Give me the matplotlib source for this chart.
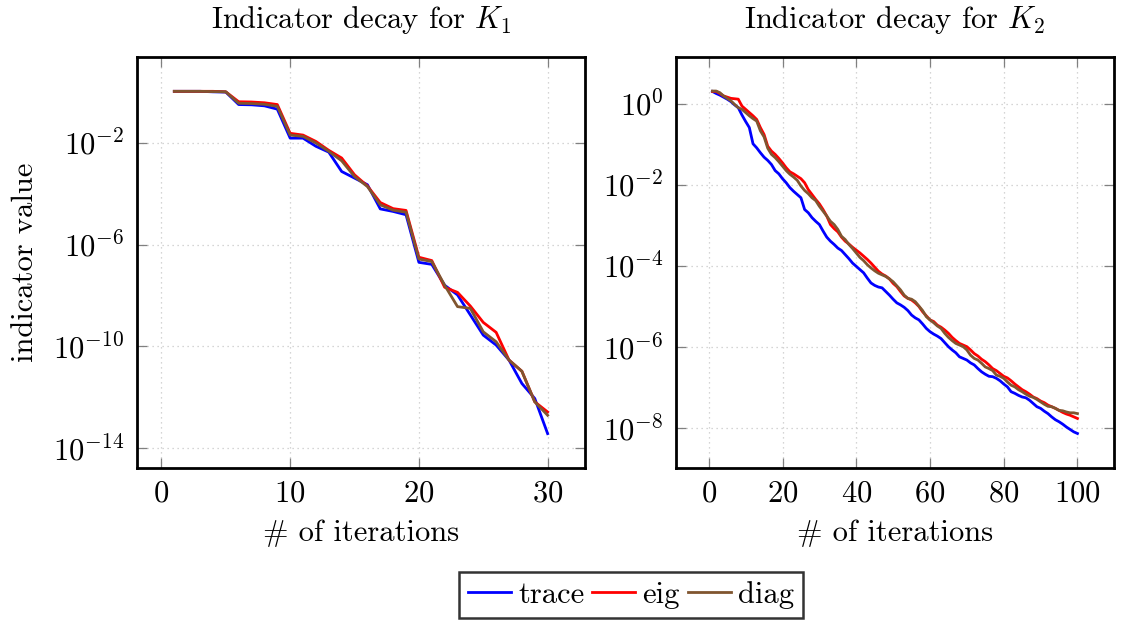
import numpy as np
import matplotlib
matplotlib.use('Agg')
import matplotlib.pyplot as plt

plt.rcParams['font.family'] = 'cmr10'
plt.rcParams['mathtext.fontset'] = 'cm'
plt.rcParams['axes.formatter.use_mathtext'] = True
plt.rcParams['font.size'] = 22

# K1: exponents (log10), iterations 1..30
k1_iter = np.arange(1, 31)
k1_trace = [0.02, 0.02, 0.02, 0.0, -0.01, -0.50, -0.51, -0.55, -0.68, -1.82,
            -1.82, -2.14, -2.37, -3.13, -3.39, -3.65, -4.60, -4.70, -4.83, -6.70,
            -6.78, -7.60, -7.98, -8.77, -9.56, -9.95, -10.54, -11.46, -12.05, -13.43]
k1_eig = [0.02, 0.02, 0.02, 0.02, 0.0, -0.39, -0.40, -0.43, -0.50, -1.63,
          -1.70, -1.95, -2.30, -2.60, -3.26, -3.70, -4.35, -4.59, -4.66, -6.50,
          -6.63, -7.68, -7.88, -8.42, -9.06, -9.45, -10.54, -10.98, -12.18, -12.58]
k1_diag = [0.02, 0.02, 0.02, 0.01, 0.0, -0.45, -0.46, -0.49, -0.57, -1.70,
           -1.75, -2.01, -2.34, -2.71, -3.33, -3.72, -4.44, -4.65, -4.73, -6.57,
           -6.67, -7.60, -8.44, -8.51, -9.43, -9.82, -10.54, -10.98, -12.18, -12.71]

# K2: exponents (log10), iterations 1..100
k2_iter = np.arange(1, 101)
k2_trace = [0.30, 0.25, 0.21, 0.16, 0.11, 0.05, -0.03, -0.10, -0.28, -0.44,
            -0.59, -0.99, -1.09, -1.21, -1.32, -1.40, -1.50, -1.65, -1.73, -1.85,
            -1.95, -2.07, -2.16, -2.24, -2.32, -2.61, -2.69, -2.81, -2.90, -2.98,
            -3.14, -3.29, -3.39, -3.47, -3.56, -3.62, -3.72, -3.82, -3.93, -4.01,
            -4.09, -4.17, -4.30, -4.42, -4.48, -4.52, -4.54, -4.63, -4.72, -4.82,
            -4.91, -4.96, -5.02, -5.10, -5.21, -5.28, -5.33, -5.43, -5.54, -5.62,
            -5.68, -5.73, -5.79, -5.89, -5.99, -6.07, -6.14, -6.24, -6.28, -6.32,
            -6.39, -6.44, -6.53, -6.61, -6.67, -6.72, -6.73, -6.77, -6.83, -6.91,
            -6.98, -7.10, -7.14, -7.19, -7.23, -7.25, -7.31, -7.39, -7.47, -7.51,
            -7.58, -7.64, -7.72, -7.79, -7.84, -7.90, -7.97, -8.03, -8.09, -8.13]
k2_eig = [0.30, 0.30, 0.25, 0.19, 0.16, 0.13, 0.12, 0.11, -0.06, -0.14,
          -0.22, -0.30, -0.39, -0.59, -0.76, -1.05, -1.17, -1.25, -1.35, -1.46,
          -1.58, -1.68, -1.73, -1.79, -1.85, -1.95, -2.12, -2.24, -2.36, -2.47,
          -2.61, -2.77, -2.98, -3.08, -3.16, -3.29, -3.39, -3.46, -3.54, -3.61,
          -3.68, -3.76, -3.84, -3.93, -4.03, -4.13, -4.20, -4.25, -4.32, -4.43,
          -4.51, -4.63, -4.74, -4.80, -4.84, -4.91, -5.00, -5.13, -5.23, -5.33,
          -5.37, -5.46, -5.51, -5.58, -5.66, -5.76, -5.84, -5.91, -5.95, -5.99,
          -6.07, -6.16, -6.22, -6.30, -6.36, -6.44, -6.53, -6.58, -6.65, -6.72,
          -6.76, -6.83, -6.91, -6.98, -7.05, -7.10, -7.16, -7.23, -7.27, -7.33,
          -7.37, -7.43, -7.47, -7.51, -7.56, -7.61, -7.65, -7.68, -7.72, -7.76]
k2_diag = [0.31, 0.31, 0.27, 0.19, 0.13, 0.07, -0.02, -0.10, -0.14, -0.22,
           -0.30, -0.37, -0.43, -0.67, -0.82, -1.10, -1.25, -1.33, -1.43, -1.54,
           -1.65, -1.74, -1.81, -1.89, -2.03, -2.14, -2.22, -2.32, -2.39, -2.53,
           -2.65, -2.77, -2.90, -2.98, -3.10, -3.27, -3.35, -3.47, -3.57, -3.68,
           -3.79, -3.87, -3.97, -4.05, -4.12, -4.18, -4.22, -4.26, -4.32, -4.39,
           -4.49, -4.59, -4.72, -4.80, -4.82, -4.88, -4.99, -5.10, -5.25, -5.33,
           -5.40, -5.48, -5.54, -5.66, -5.76, -5.84, -5.91, -5.95, -5.99, -6.07,
           -6.20, -6.28, -6.32, -6.40, -6.49, -6.53, -6.58, -6.69, -6.72, -6.77,
           -6.86, -6.94, -6.98, -7.05, -7.10, -7.16, -7.21, -7.24, -7.29, -7.35,
           -7.41, -7.46, -7.47, -7.51, -7.56, -7.57, -7.60, -7.62, -7.62, -7.64]

labels = ['trace', 'eig', 'diag']
colors = ['#0000ff', '#ff0000', '#80552f']

fig = plt.figure(figsize=(11.33, 6.28), dpi=100)
ax1 = fig.add_axes([0.1209, 0.2548, 0.3954, 0.6545])
ax2 = fig.add_axes([0.5966, 0.2548, 0.3866, 0.6545])


def draw(ax, x, series, title, xlim, ylim, xticks, yticks):
    for s, c, lab in zip(series, colors, labels):
        ax.plot(x, 10.0 ** np.array(s), color=c, lw=2, label=lab)
    ax.set_yscale('log')
    ax.set_xlim(*xlim)
    ax.set_ylim(10.0 ** ylim[0], 10.0 ** ylim[1])
    ax.set_xticks(xticks)
    ax.set_yticks([10.0 ** e for e in yticks])
    ax.yaxis.set_minor_locator(matplotlib.ticker.NullLocator())
    ax.grid(True, which='major', color='#c8c8c8', linestyle=(0, (1, 3)), lw=0.9)
    ax.tick_params(direction='in', length=7, width=0.9, color='#808080',
                   top=True, right=True, labelsize=22, pad=9)
    for sp in ax.spines.values():
        sp.set_linewidth(2)
    ax.set_title(title, fontsize=22, pad=21)
    ax.set_xlabel('# of iterations', fontsize=22, labelpad=8)


draw(ax1, k1_iter, [k1_trace, k1_eig, k1_diag], 'Indicator decay for $K_1$',
     (-1.9, 32.9), (-14.78, 1.37), [0, 10, 20, 30], [-14, -10, -6, -2])
draw(ax2, k2_iter, [k2_trace, k2_eig, k2_diag], 'Indicator decay for $K_2$',
     (-8.9, 109.9), (-8.98, 1.15), [0, 20, 40, 60, 80, 100], [-8, -6, -4, -2, 0])
ax1.set_ylabel('indicator value', fontsize=22, labelpad=10)

handles, labs = ax1.get_legend_handles_labels()
leg = fig.legend(handles, labs, loc='center', bbox_to_anchor=(0.557, 0.0525),
                 ncol=3, fontsize=22, frameon=True, fancybox=False,
                 handlelength=1.4, handletextpad=0.25, columnspacing=0.25,
                 borderpad=0.3, borderaxespad=0)
leg.get_frame().set_edgecolor('black')
leg.get_frame().set_linewidth(1.8)

fig.savefig('out.png', dpi=100)
